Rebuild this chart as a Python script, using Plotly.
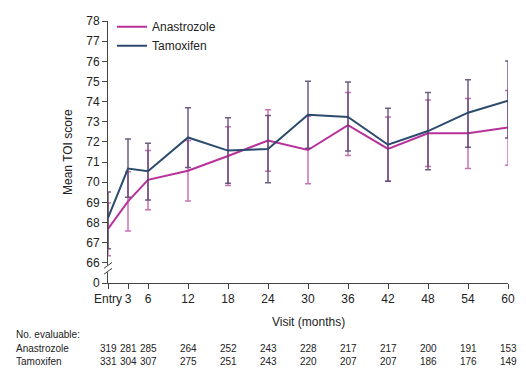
import plotly.graph_objects as go

visits = [0, 3, 6, 12, 18, 24, 30, 36, 42, 48, 54, 60]
visit_labels = ["Entry", "3", "6", "12", "18", "24", "30", "36", "42", "48", "54", "60"]

ana_mean = [67.68, 69.05, 70.12, 70.57, 71.30, 72.07, 71.60, 72.83, 71.65, 72.43, 72.43, 72.72]
ana_low = [66.35, 67.58, 68.63, 69.07, 69.84, 70.54, 69.92, 71.33, 70.05, 70.78, 70.68, 70.84]
ana_high = [68.97, 70.52, 71.57, 72.07, 72.75, 73.60, 73.28, 74.45, 73.24, 74.08, 74.16, 74.55]

tam_mean = [68.23, 70.68, 70.55, 72.22, 71.57, 71.65, 73.35, 73.24, 71.86, 72.54, 73.45, 74.05]
tam_low = [66.70, 69.25, 69.12, 70.73, 69.95, 69.97, 71.69, 71.55, 70.05, 70.62, 71.74, 72.19]
tam_high = [69.52, 72.15, 71.94, 73.69, 73.20, 73.31, 75.01, 74.97, 73.67, 74.45, 75.09, 76.01]

ana_n = [319, 281, 285, 264, 252, 243, 228, 217, 217, 200, 191, 153]
tam_n = [331, 304, 307, 275, 251, 243, 220, 207, 207, 186, 176, 149]

y_ticks = [65, 66, 67, 68, 69, 70, 71, 72, 73, 74, 75, 76, 77, 78]
y_tick_labels = ["0"] + [str(v) for v in y_ticks[1:]]

MAG = "#b8319b"
NAVY = "#2c4a6e"
FONT = "Liberation Sans, Arial, sans-serif"

fig = go.Figure()

def add_series(name, mean, low, high, color, bar_color):
    fig.add_trace(go.Scatter(
        x=visits, y=mean, name=name, mode="lines",
        line=dict(color=color, width=2),
        error_y=dict(type="data", symmetric=False,
                     array=[h - m for h, m in zip(high, mean)],
                     arrayminus=[m - l for m, l in zip(mean, low)],
                     color=bar_color, thickness=1.5, width=3),
        cliponaxis=False,
    ))

add_series("Anastrozole", ana_mean, ana_low, ana_high, MAG, "rgba(192,90,170,0.85)")
add_series("Tamoxifen", tam_mean, tam_low, tam_high, NAVY, "rgba(88,64,112,0.85)")

# plot geometry helpers (pixel -> paper)
L, R, T, B = 108, 18, 15, 87
W, H = 526, 370
PW, PH = W - L - R, H - T - B
def px(xp):
    return (xp - L) / PW
def py(yp):
    return (H - B - yp) / PH

# number-evaluable table
ann = []
ann.append(dict(text="No. evaluable:", x=px(14), y=py(336), xref="paper", yref="paper",
                xanchor="left", yanchor="middle", showarrow=False,
                font=dict(size=10, color="#222", family=FONT)))
for label, counts, ypix in [("Anastrozole", ana_n, 350), ("Tamoxifen", tam_n, 363)]:
    ann.append(dict(text=label, x=px(14), y=py(ypix), xref="paper", yref="paper",
                    xanchor="left", yanchor="middle", showarrow=False,
                    font=dict(size=10, color="#222", family=FONT)))
    for v, c in zip(visits, counts):
        ann.append(dict(text=str(c), x=v, y=py(ypix), xref="x", yref="paper",
                        xanchor="center", yanchor="middle", showarrow=False,
                        font=dict(size=10, color="#222", family=FONT)))

ann.append(dict(text="Visit (months)", x=0.5, y=py(323), xref="paper", yref="paper",
                xanchor="center", yanchor="middle", showarrow=False,
                font=dict(size=12, color="#222", family=FONT)))
ann.append(dict(text="Mean TOI score", x=px(68), y=0.5, xref="paper", yref="paper",
                xanchor="center", yanchor="middle", showarrow=False, textangle=-90,
                font=dict(size=12, color="#222", family=FONT)))

shapes = [
    dict(type="line", xref="paper", yref="paper", x0=px(108), x1=px(108),
         y0=py(265), y1=py(272), line=dict(color="white", width=3)),
    dict(type="line", xref="paper", yref="paper", x0=px(104), x1=px(112),
         y0=py(268), y1=py(262), line=dict(color="#444", width=1)),
    dict(type="line", xref="paper", yref="paper", x0=px(104), x1=px(112),
         y0=py(274), y1=py(268), line=dict(color="#444", width=1)),
]

fig.update_layout(
    width=W, height=H,
    margin=dict(l=L, r=R, t=T, b=B),
    plot_bgcolor="white", paper_bgcolor="white",
    font=dict(family=FONT, size=12, color="#222"),
    showlegend=True,
    legend=dict(x=px(112), y=py(6), xanchor="left", yanchor="top",
                bgcolor="rgba(0,0,0,0)", font=dict(size=12, family=FONT, color="#222"),
                tracegroupgap=0, itemwidth=30),
    xaxis=dict(range=[0, 60], tickmode="array", tickvals=visits, ticktext=visit_labels,
               showline=True, linecolor="#444", linewidth=1, ticks="outside",
               ticklen=5, tickcolor="#444", showgrid=False, zeroline=False,
               tickfont=dict(size=12)),
    yaxis=dict(range=[65, 78], tickmode="array", tickvals=y_ticks, ticktext=y_tick_labels,
               showline=True, linecolor="#444", linewidth=1, ticks="outside",
               ticklen=5, tickcolor="#444", showgrid=False, zeroline=False,
               tickfont=dict(size=12)),
    annotations=ann,
    shapes=shapes,
)

fig.write_html("out.html", config={"displayModeBar": False})

# remove the browser's default page margin so the figure sits at the window's corner
with open("out.html", "r", encoding="utf-8") as f:
    html = f.read()
html = html.replace("<body>", '<body style="margin:0;padding:0;overflow:hidden">', 1)
with open("out.html", "w", encoding="utf-8") as f:
    f.write(html)
